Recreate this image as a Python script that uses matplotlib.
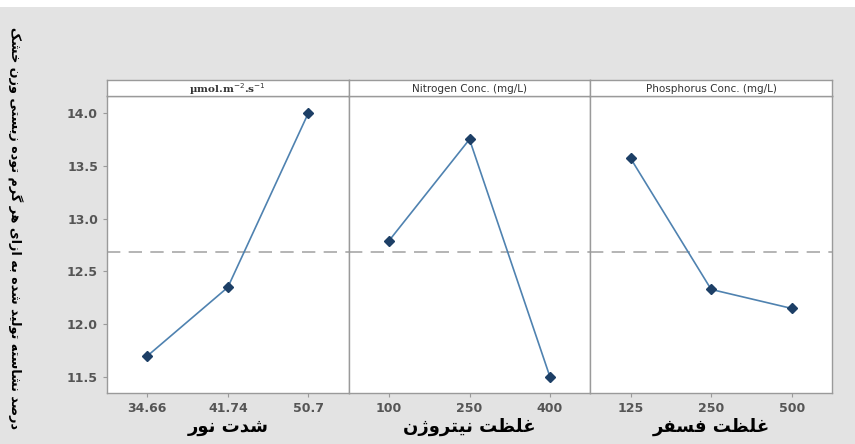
import matplotlib
matplotlib.use("Agg")
import matplotlib.pyplot as plt
from matplotlib.patches import Rectangle

# ---------------- data ----------------
panel_titles = ["µmol.m$^{-2}$.s$^{-1}$", "Nitrogen Conc. (mg/L)", "Phosphorus Conc. (mg/L)"]
light_ticks = ["34.66", "41.74", "50.7"]
nitrogen_ticks = ["100", "250", "400"]
phosphorus_ticks = ["125", "250", "500"]
light_values = [11.70, 12.35, 14.00]
nitrogen_values = [12.79, 13.75, 11.50]
phosphorus_values = [13.57, 12.33, 12.15]
grand_mean = 12.68
x_labels_fa = ["شدت نور", "غلظت نیتروژن", "غلظت فسفر"]
y_label_fa = "درصد نشاسته تولید شده به ازای هر گرم توده زیستی وزن خشک"
y_ticks = [11.5, 12.0, 12.5, 13.0, 13.5, 14.0]

# ------------- simple Persian shaping (no external libs) -------------
FORMS = {  # isolated, final, initial, medial
    'ا': ('\uFE8D', '\uFE8E', None, None),
    'ب': ('\uFE8F', '\uFE90', '\uFE91', '\uFE92'),
    'ت': ('\uFE95', '\uFE96', '\uFE97', '\uFE98'),
    'خ': ('\uFEA5', '\uFEA6', '\uFEA7', '\uFEA8'),
    'د': ('\uFEA9', '\uFEAA', None, None),
    'ر': ('\uFEAD', '\uFEAE', None, None),
    'ز': ('\uFEAF', '\uFEB0', None, None),
    'ژ': ('\uFB8A', '\uFB8B', None, None),
    'س': ('\uFEB1', '\uFEB2', '\uFEB3', '\uFEB4'),
    'ش': ('\uFEB5', '\uFEB6', '\uFEB7', '\uFEB8'),
    'ص': ('\uFEB9', '\uFEBA', '\uFEBB', '\uFEBC'),
    'ظ': ('\uFEC5', '\uFEC6', '\uFEC7', '\uFEC8'),
    'غ': ('\uFECD', '\uFECE', '\uFECF', '\uFED0'),
    'ف': ('\uFED1', '\uFED2', '\uFED3', '\uFED4'),
    'ل': ('\uFEDD', '\uFEDE', '\uFEDF', '\uFEE0'),
    'م': ('\uFEE1', '\uFEE2', '\uFEE3', '\uFEE4'),
    'ن': ('\uFEE5', '\uFEE6', '\uFEE7', '\uFEE8'),
    'ه': ('\uFEE9', '\uFEEA', '\uFEEB', '\uFEEC'),
    'و': ('\uFEED', '\uFEEE', None, None),
    'ی': ('\uFBFC', '\uFBFD', '\uFBFE', '\uFBFF'),
    'ک': ('\uFB8E', '\uFB8F', '\uFB90', '\uFB91'),
    'گ': ('\uFB92', '\uFB93', '\uFB94', '\uFB95'),
}


def shape_fa(text):
    out = []
    n = len(text)
    for i, ch in enumerate(text):
        if ch not in FORMS:
            out.append(ch)
            continue
        prev = text[i - 1] if i > 0 else None
        nxt = text[i + 1] if i < n - 1 else None
        joins_prev = prev in FORMS and FORMS[prev][2] is not None
        can_next = FORMS[ch][2] is not None
        joins_next = can_next and nxt in FORMS
        iso, fin, ini, med = FORMS[ch]
        if joins_prev and joins_next:
            out.append(med)
        elif joins_prev:
            out.append(fin)
        elif joins_next:
            out.append(ini)
        else:
            out.append(iso)
    return "".join(out)[::-1]


# ---------------- figure ----------------
W, H = 855, 444
fig = plt.figure(figsize=(W / 100, H / 100), dpi=100)
fig.patch.set_facecolor("#e3e3e3")
fig.add_artist(Rectangle((0, 1 - 7 / H), 1, 7 / H, transform=fig.transFigure,
                         facecolor="white", edgecolor="none", zorder=0))

left_px, right_px = 107, 832
top_px, strip_px, bottom_px = 80, 96, 393
pw = (right_px - left_px) / 3

series = [light_values, nitrogen_values, phosphorus_values]
ticklabels = [light_ticks, nitrogen_ticks, phosphorus_ticks]

line_c = "#4f82b0"
mark_c = "#1d3f66"
frame_c = "#9a9a9a"
text_c = "#555555"

for k in range(3):
    x0 = (left_px + k * pw) / W
    ax = fig.add_axes([x0, (H - bottom_px) / H, pw / W, (bottom_px - strip_px) / H])
    ax.set_facecolor("white")
    xs = list(range(1, len(series[k]) + 1))
    ax.axhline(grand_mean, color="#a8a8a8", lw=1.2, ls=(0, (8, 5)), zorder=1)
    ax.plot(xs, series[k], color=line_c, lw=1.2, zorder=2)
    ax.plot(xs, series[k], ls="none", marker="D", ms=5.5, color=mark_c, zorder=3)
    ax.set_xlim(0.5, 3.5)
    ax.set_ylim(11.35, 14.16)
    ax.set_xticks(xs)
    ax.set_xticklabels(ticklabels[k], fontsize=9, color=text_c, fontweight="bold")
    ax.set_yticks(y_ticks)
    if k == 0:
        ax.set_yticklabels([f"{v:.1f}" for v in y_ticks], fontsize=9, color=text_c,
                           fontweight="bold")
    else:
        ax.tick_params(axis="y", left=False, labelleft=False)
    ax.tick_params(axis="both", colors=frame_c, length=3, width=0.8, labelcolor=text_c)
    for s in ax.spines.values():
        s.set_color(frame_c)
        s.set_linewidth(1.0)
    ax.set_xlabel(shape_fa(x_labels_fa[k]), fontsize=13, fontweight="bold",
                  color="black", labelpad=2)

    sax = fig.add_axes([x0, (H - strip_px) / H, pw / W, (strip_px - top_px) / H])
    sax.set_facecolor("white")
    sax.set_xticks([])
    sax.set_yticks([])
    for s in sax.spines.values():
        s.set_color(frame_c)
        s.set_linewidth(1.0)
    fam = "DejaVu Serif" if k == 0 else "DejaVu Sans"
    sax.text(0.5, 0.45, panel_titles[k], ha="center", va="center", fontsize=7.5,
             color="#333333", family=fam, transform=sax.transAxes,
             fontweight="bold" if k == 0 else "normal")

fig.text(15 / W, 0.5 - 6 / H, shape_fa(y_label_fa), rotation=270, ha="center",
         va="center", fontsize=9.2, fontweight="bold", color="black")

fig.savefig("out.png", dpi=100, facecolor=fig.get_facecolor())
